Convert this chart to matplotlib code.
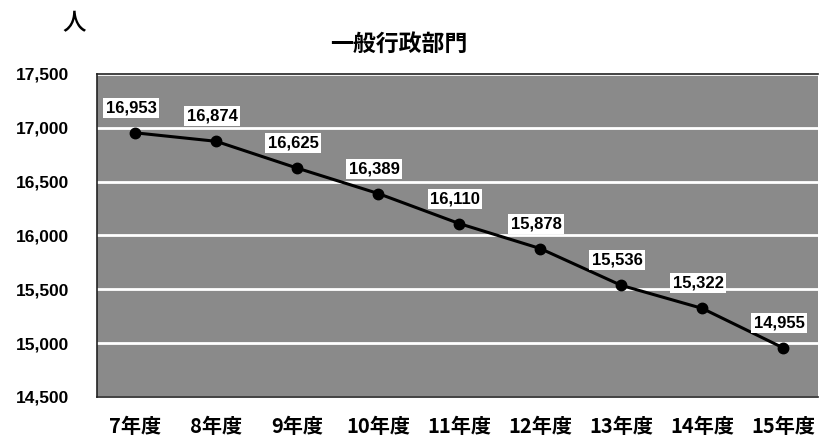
import matplotlib.pyplot as plt

plt.rcParams['font.family'] = ['Liberation Sans', 'Noto Sans CJK JP', 'DejaVu Sans']

years = ['7年度', '8年度', '9年度', '10年度', '11年度', '12年度', '13年度', '14年度', '15年度']
staff = [16953, 16874, 16625, 16389, 16110, 15878, 15536, 15322, 14955]
yticks = [14500, 15000, 15500, 16000, 16500, 17000, 17500]

fig = plt.figure(figsize=(8.23, 4.4), dpi=100)
ax = fig.add_axes([0.118, 0.098, 0.876, 0.734])
ax.set_facecolor('#8a8a8a')

x = list(range(len(years)))
ax.plot(x, staff, color='black', lw=2.2, marker='o', ms=7.5, zorder=3)

# value boxes sit just above each point
for xi, v in zip(x, staff):
    ax.annotate(f'{v:,}', (xi, v), xytext=(-3, 18), textcoords='offset points',
                ha='center', va='center', fontsize=12, fontweight='bold',
                bbox=dict(boxstyle='square,pad=0.15', fc='white', ec='none'),
                zorder=4)

ax.set_ylim(14500, 17500)
ax.set_xlim(-0.47, 8.43)
ax.set_yticks(yticks)
ax.set_yticklabels([f'{t:,}' for t in yticks], fontsize=12.5, fontweight='bold')
ax.set_xticks(x)
ax.set_xticklabels(years, fontsize=14.5, fontweight='bold',
                   family=['Noto Sans CJK JP', 'DejaVu Sans'])
ax.tick_params(axis='y', length=0, pad=20)
ax.tick_params(axis='x', length=0, pad=14)
ax.yaxis.grid(True, color='white', lw=2)
ax.set_axisbelow(True)

for side in ['left', 'bottom', 'top']:
    ax.spines[side].set_color('#222222')
    ax.spines[side].set_linewidth(1.2)
ax.spines['right'].set_visible(False)

fig.text(0.484, 0.898, '一般行政部門', ha='center', va='center', fontsize=16.5,
         fontweight='bold', family=['Noto Sans CJK JP'])
fig.text(0.09, 0.945, '人', ha='center', va='center', fontsize=17,
         fontweight='medium', family=['Noto Sans CJK JP'])

plt.savefig('out.png', dpi=100)
